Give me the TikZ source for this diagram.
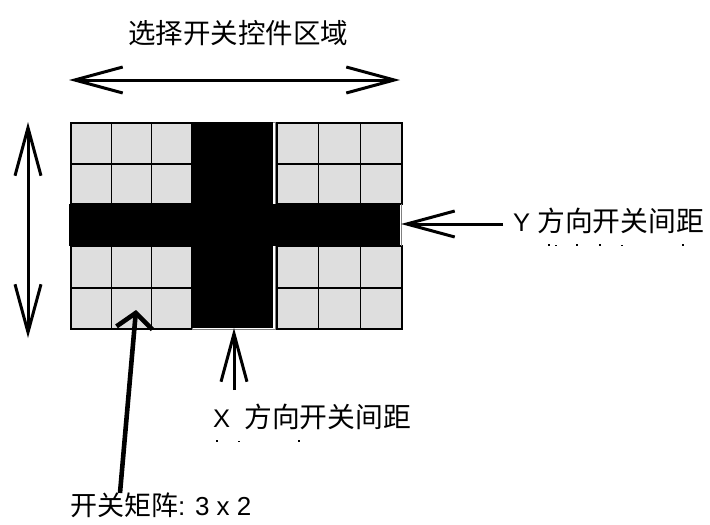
\documentclass[tikz,border=0pt]{standalone}
\usepackage{fontspec}
\setmainfont{Liberation Sans}
\newfontfamily\cjk{Noto Sans CJK SC}
\usetikzlibrary{arrows.meta}
\definecolor{cellgray}{HTML}{DEDEDE}
\begin{document}
\begin{tikzpicture}[x=1pt,y=-1pt,
  cell/.style={draw=black, line width=1.1pt, fill=cellgray},
  bar/.style={fill=black, draw=none},
  lbl/.style={inner sep=0pt, font=\fontsize{27.5}{32}\selectfont},
  dimarrow/.style={line width=3pt, {Straight Barb[length=48pt,width=26pt]}-{Straight Barb[length=48pt,width=26pt]}},
  onearrow/.style={line width=3pt, -{Straight Barb[length=48pt,width=26pt]}},
  ptrarrow/.style={line width=4.6pt, -{Straight Barb[length=15pt,width=36pt]}},
  spot/.style={fill=black, draw=none}]
\useasboundingbox (0,0) rectangle (710,525);
% grid blocks
\foreach \xa/\xb in {71/111.3,111.3/151.6,151.6/192,277/318.7,318.7/360.3,360.3/402}{
  \foreach \ya/\yb in {123/164,164/204,246/288,288/329}{
    \draw[cell] (\xa,\ya) rectangle (\xb,\yb);
  }
}
% outline around central strip
\draw[gray, line width=1pt] (192,122) rectangle (275,329);
% spacing bars
\fill[bar] (192,122) rectangle (273,328);
\fill[bar] (69,204) rectangle (400,246);
\draw[gray, line width=0.8pt] (401,204) -- (401,246);
% named reference points on the switch area
\coordinate (ygap) at (401,224);
\coordinate (xgap) at (234,328);
\coordinate (cellpt) at (136,310);
\coordinate (areaL) at (69,80);
\coordinate (areaR) at (400,80);
\coordinate (areaT) at (28,122);
\coordinate (areaB) at (28,338);
% labels
\node[lbl, anchor=center] (title) at (238,33) {\cjk 选择开关控件区域};
\node[lbl, anchor=west] (ylab) at (513,221) {\fontsize{25.5}{30}\selectfont Y\ {\cjk\fontsize{27.8}{32}\selectfont 方向开关间距}};
\node[lbl, anchor=west] (xlab) at (213,417) {\fontsize{25.5}{30}\selectfont X\ \ {\cjk\fontsize{27.8}{32}\selectfont 方向开关间距}};
\node[lbl, anchor=west] (mlab) at (70,505) {{\cjk\fontsize{27}{30}\selectfont 开关矩阵}\fontsize{26}{30}\selectfont: 3 x 2};
\coordinate (ytail) at (503,224);
\coordinate (xtail) at (234,390);
\coordinate (mtail) at (120,493);
% arrows
\draw[dimarrow] (areaL) -- (areaR);
\draw[dimarrow] (areaT) -- (areaB);
\draw[onearrow] (ytail) -- (ygap);
\draw[onearrow] (xtail) -- (xgap);
\draw[ptrarrow] (mtail) -- (cellpt);
% clipped second-line remnants
\foreach \px in {549,577,600,683}{\fill[spot] (\px-1,244) rectangle (\px+1,246);}
\foreach \px in {556,622}{\fill[spot] (\px-0.7,245) rectangle (\px+0.7,246);}
\foreach \px in {217,299}{\fill[spot] (\px-1,440) rectangle (\px+1,442);}
\fill[spot] (238.3,441) rectangle (239.7,442);
\end{tikzpicture}
\end{document}
